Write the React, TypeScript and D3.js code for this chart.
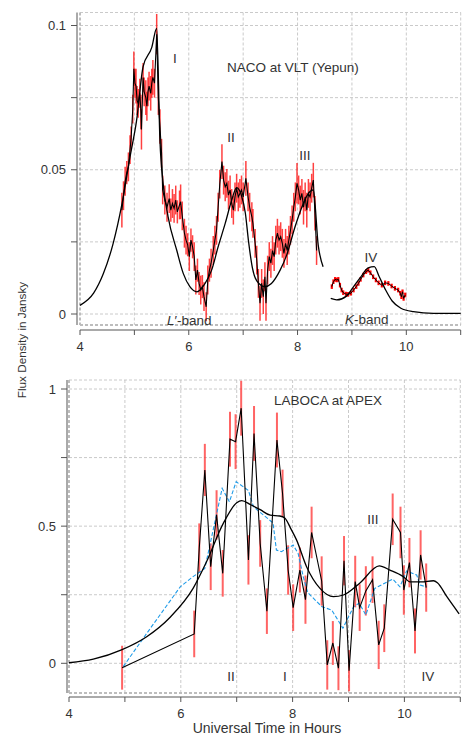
import React from "react";
import * as d3 from "d3";

// ---------- ticks ----------
const xTicks = [4, 5, 6, 7, 8, 9, 10, 11];
const xTickLabels = ["4", "", "6", "", "8", "", "10", ""];
const topYTicks = [0, 0.025, 0.05, 0.075, 0.1];
const topYTickLabels = ["0", "", "0.05", "", "0.1"];
const botYTicks = [0, 0.25, 0.5, 0.75, 1];
const botYTickLabels = ["0", "", "0.5", "", "1"];

// ---------- NACO L'-band data [hour, flux, error] ----------
const lbandData: [number, number, number][] = [
  [4.77, 0.036, 0.006], [4.8, 0.041, 0.005], [4.83, 0.046, 0.005], [4.86, 0.049, 0.004],
  [4.89, 0.051, 0.005], [4.92, 0.057, 0.005], [4.94, 0.061, 0.004], [4.97, 0.071, 0.005],
  [4.99, 0.085, 0.006], [5.01, 0.08, 0.005], [5.03, 0.079, 0.006], [5.05, 0.074, 0.005],
  [5.07, 0.073, 0.005], [5.1, 0.0765, 0.005], [5.12, 0.07, 0.006], [5.13, 0.064, 0.007],
  [5.16, 0.082, 0.005], [5.18, 0.077, 0.005], [5.21, 0.075, 0.006], [5.23, 0.072, 0.005],
  [5.25, 0.077, 0.005], [5.27, 0.079, 0.005], [5.3, 0.0765, 0.006], [5.32, 0.08, 0.005],
  [5.34, 0.082, 0.006], [5.37, 0.08, 0.005], [5.41, 0.097, 0.007], [5.44, 0.075, 0.006],
  [5.47, 0.065, 0.006], [5.5, 0.0557, 0.005], [5.52, 0.043, 0.005], [5.56, 0.0395, 0.005],
  [5.6, 0.037, 0.005], [5.64, 0.04, 0.005], [5.67, 0.036, 0.004], [5.7, 0.0383, 0.005],
  [5.73, 0.0366, 0.005], [5.76, 0.0395, 0.005], [5.79, 0.0354, 0.004], [5.83, 0.0378, 0.005],
  [5.85, 0.0389, 0.006], [5.88, 0.034, 0.005], [5.92, 0.028, 0.005], [5.95, 0.0256, 0.005],
  [5.98, 0.024, 0.004], [6.01, 0.0199, 0.005], [6.04, 0.0256, 0.004], [6.07, 0.0233, 0.004],
  [6.1, 0.0199, 0.005], [6.13, 0.0118, 0.005], [6.16, 0.0152, 0.004], [6.19, 0.0106, 0.004],
  [6.22, 0.0083, 0.005], [6.25, 0.0095, 0.004], [6.28, 0.006, 0.005], [6.32, 0.0025, 0.005],
  [6.35, 0.0118, 0.005], [6.38, 0.0152, 0.004], [6.41, 0.0176, 0.005], [6.45, 0.022, 0.005],
  [6.48, 0.0256, 0.005], [6.51, 0.029, 0.005], [6.54, 0.037, 0.005], [6.57, 0.045, 0.005],
  [6.61, 0.0528, 0.006], [6.64, 0.0464, 0.005], [6.67, 0.0441, 0.005], [6.7, 0.0453, 0.005],
  [6.73, 0.0412, 0.005], [6.76, 0.043, 0.005], [6.79, 0.0383, 0.005], [6.82, 0.036, 0.005],
  [6.85, 0.0406, 0.005], [6.88, 0.0436, 0.005], [6.91, 0.0406, 0.005], [6.94, 0.0418, 0.005],
  [6.97, 0.043, 0.005], [7.0, 0.0406, 0.005], [7.05, 0.047, 0.006], [7.09, 0.0406, 0.005],
  [7.12, 0.037, 0.005], [7.16, 0.0337, 0.005], [7.18, 0.0314, 0.005], [7.22, 0.0245, 0.005],
  [7.25, 0.0187, 0.005], [7.28, 0.0106, 0.005], [7.31, 0.0037, 0.006], [7.34, 0.0106, 0.005],
  [7.37, 0.006, 0.006], [7.4, 0.0129, 0.005], [7.42, 0.0037, 0.006], [7.45, 0.0152, 0.005],
  [7.48, 0.0199, 0.005], [7.51, 0.0176, 0.005], [7.54, 0.022, 0.005], [7.57, 0.0199, 0.005],
  [7.6, 0.0256, 0.005], [7.63, 0.028, 0.005], [7.66, 0.0256, 0.005], [7.69, 0.0268, 0.005],
  [7.72, 0.0245, 0.005], [7.75, 0.021, 0.005], [7.78, 0.0245, 0.005], [7.81, 0.022, 0.005],
  [7.84, 0.0256, 0.005], [7.87, 0.029, 0.005], [7.9, 0.0326, 0.005], [7.93, 0.037, 0.005],
  [7.96, 0.0406, 0.005], [7.99, 0.0453, 0.007], [8.02, 0.043, 0.005], [8.05, 0.0395, 0.005],
  [8.08, 0.0418, 0.005], [8.11, 0.037, 0.006], [8.14, 0.0406, 0.005], [8.17, 0.036, 0.006],
  [8.2, 0.0418, 0.005], [8.23, 0.0406, 0.005], [8.26, 0.0436, 0.005], [8.29, 0.0464, 0.006],
  [8.32, 0.0349, 0.006], [8.35, 0.022, 0.005],
];

// ---------- NACO K-band data [hour, flux, error] ----------
const kbandData: [number, number, number][] = [
  [8.63, 0.0095, 0.0008], [8.66, 0.0112, 0.0008], [8.69, 0.012, 0.0008], [8.72, 0.0118, 0.0008],
  [8.75, 0.012, 0.0008], [8.78, 0.01, 0.0008], [8.81, 0.0083, 0.0008], [8.84, 0.0074, 0.0008],
  [8.89, 0.0069, 0.0008], [8.93, 0.0068, 0.0008], [8.98, 0.0072, 0.0008], [9.03, 0.0083, 0.0008],
  [9.08, 0.0095, 0.0008], [9.12, 0.0106, 0.0008], [9.16, 0.012, 0.0008], [9.21, 0.0135, 0.0008],
  [9.26, 0.0147, 0.0008], [9.3, 0.0152, 0.0008], [9.34, 0.0143, 0.0008], [9.39, 0.0129, 0.0008],
  [9.44, 0.0118, 0.0008], [9.49, 0.0108, 0.0008], [9.55, 0.01, 0.0008], [9.61, 0.0108, 0.0008],
  [9.67, 0.0106, 0.0008], [9.73, 0.0097, 0.0008], [9.79, 0.0089, 0.0008], [9.85, 0.0083, 0.0008],
  [9.89, 0.0072, 0.0008], [9.91, 0.006, 0.0008], [9.93, 0.0077, 0.0008], [9.95, 0.0054, 0.0008],
  [9.98, 0.0066, 0.0008],
];

// ---------- NACO model curves [hour, flux] ----------
const lbandModel: [number, number][] = [
  [4.0, 0.003], [4.25, 0.0072], [4.43, 0.014], [4.61, 0.0245], [4.77, 0.038], [4.92, 0.0545],
  [5.04, 0.067], [5.16, 0.0857], [5.32, 0.0924], [5.41, 0.099], [5.47, 0.06], [5.53, 0.045],
  [5.62, 0.0337], [5.78, 0.022], [5.9, 0.014], [6.02, 0.0095], [6.15, 0.0077], [6.3, 0.0106],
  [6.42, 0.0152], [6.54, 0.0233], [6.67, 0.0314], [6.79, 0.0395], [6.88, 0.0438], [6.97, 0.041],
  [7.04, 0.035], [7.1, 0.025], [7.17, 0.016], [7.25, 0.0115], [7.4, 0.0095], [7.52, 0.0106],
  [7.68, 0.0152], [7.8, 0.0204], [7.95, 0.03], [8.07, 0.0366], [8.2, 0.0418], [8.29, 0.043],
  [8.38, 0.0239], [8.47, 0.0164],
];
const kbandModel: [number, number][] = [
  [8.61, 0.0054], [8.72, 0.0049], [8.9, 0.0062], [9.03, 0.0095], [9.15, 0.0125], [9.3, 0.016],
  [9.41, 0.0164], [9.5, 0.013], [9.62, 0.0083], [9.74, 0.0045], [9.9, 0.002], [10.13, 0.0008],
  [10.5, 0.0002], [11.0, 0.0002],
];

// ---------- LABOCA data [hour, flux, error] ----------
const labocaData: [number, number, number][] = [
  [4.95, -0.016, 0.08], [6.24, 0.107, 0.085], [6.33, 0.42, 0.09], [6.43, 0.705, 0.095],
  [6.535, 0.352, 0.085], [6.64, 0.541, 0.09], [6.75, 0.328, 0.085], [6.88, 0.817, 0.1],
  [6.98, 0.808, 0.1], [7.08, 0.93, 0.1], [7.21, 0.377, 0.09], [7.31, 0.838, 0.1],
  [7.42, 0.437, 0.085], [7.54, 0.19, 0.083], [7.72, 0.814, 0.1], [7.82, 0.62, 0.086],
  [7.92, 0.34, 0.09], [8.01, 0.203, 0.085], [8.13, 0.34, 0.082], [8.23, 0.232, 0.088],
  [8.34, 0.477, 0.094], [8.52, 0.3, 0.09], [8.62, -0.006, 0.09], [8.72, 0.074, 0.08],
  [8.82, -0.018, 0.08], [8.92, 0.374, 0.09], [9.01, -0.027, 0.075], [9.12, 0.298, 0.094],
  [9.2, 0.203, 0.085], [9.31, 0.264, 0.09], [9.43, 0.305, 0.085], [9.54, 0.067, 0.088],
  [9.64, 0.128, 0.087], [9.79, 0.525, 0.094], [9.93, 0.477, 0.094], [9.99, 0.267, 0.09],
  [10.09, 0.367, 0.09], [10.19, 0.118, 0.082], [10.29, 0.395, 0.09], [10.39, 0.276, 0.088],
];

// ---------- LABOCA model and smoothed curve [hour, flux] ----------
const labocaModel: [number, number][] = [
  [4.0, 0.002], [4.435, 0.015], [4.95, 0.05], [5.39, 0.097], [5.81, 0.168], [6.22, 0.273],
  [6.46, 0.37], [6.76, 0.51], [7.0, 0.585], [7.09, 0.593], [7.25, 0.578], [7.42, 0.56],
  [7.6, 0.54], [7.77, 0.537], [7.86, 0.53], [7.97, 0.49], [8.07, 0.45], [8.25, 0.352],
  [8.49, 0.273], [8.73, 0.243], [8.91, 0.249], [9.2, 0.292], [9.55, 0.355], [9.74, 0.34],
  [9.98, 0.316], [10.1, 0.297], [10.3, 0.297], [10.52, 0.301], [10.59, 0.294], [10.76, 0.243],
  [10.98, 0.18],
];
const labocaSmooth: [number, number][] = [
  [4.97, -0.012], [5.39, 0.109], [5.99, 0.279], [6.22, 0.316], [6.43, 0.346], [6.74, 0.638],
  [6.87, 0.589], [6.99, 0.662], [7.21, 0.63], [7.3, 0.571], [7.42, 0.55], [7.65, 0.512],
  [7.71, 0.413], [7.8, 0.407], [8.01, 0.431], [8.1, 0.4], [8.19, 0.316], [8.27, 0.258],
  [8.52, 0.207], [8.7, 0.194], [8.9, 0.128], [9.09, 0.206], [9.19, 0.219], [9.31, 0.176],
  [9.47, 0.273], [9.79, 0.307], [9.92, 0.279], [10.04, 0.337], [10.22, 0.322], [10.28, 0.285],
  [10.39, 0.279],
];

const FONT = "'Liberation Sans', Arial, Helvetica, sans-serif";
const TXT = "#333";

type PanelProps = {
  x0: number; x1: number; yTop: number; yBot: number;
  yAxisX: number; xAxisY: number;
  yDomain: [number, number]; yRange: [number, number];
  yTicks: number[]; yTickLabels: string[]; labelEndX: number;
  children: (x: d3.ScaleLinear<number, number>, y: d3.ScaleLinear<number, number>) => React.ReactNode;
};

function Panel(p: PanelProps) {
  const x = d3.scaleLinear().domain([4, 11]).range([p.x0, p.x1]);
  const y = d3.scaleLinear().domain(p.yDomain).range(p.yRange);
  const grid = "#bdbdbd";
  return (
    <g>
      {xTicks.map((t) => (
        <line key={"gx" + t} x1={x(t)} x2={x(t)} y1={p.yTop} y2={p.yBot}
          stroke={grid} strokeWidth={t === 4 ? 2 : 0.8} strokeDasharray="3,2" />
      ))}
      {p.yTicks.map((t) => (
        <line key={"gy" + t} x1={p.x0} x2={p.x1} y1={y(t)} y2={y(t)}
          stroke={grid} strokeWidth={0.8} strokeDasharray="3,2" />
      ))}
      <line x1={p.x0} x2={p.x1} y1={p.yTop} y2={p.yTop} stroke={grid} strokeWidth={0.8} strokeDasharray="3,2" />
      <line x1={p.x0} x2={p.x1} y1={p.yBot} y2={p.yBot} stroke={grid} strokeWidth={2} strokeDasharray="3,2" />
      <line x1={p.yAxisX} x2={p.yAxisX} y1={p.yTop} y2={p.yBot} stroke="#555" strokeWidth={1} />
      {p.yTicks.map((t, i) => (
        <g key={"yt" + t}>
          <line x1={p.yAxisX - 6} x2={p.yAxisX} y1={y(t)} y2={y(t)} stroke="#555" strokeWidth={1} />
          {p.yTickLabels[i] && (
            <text x={p.labelEndX} y={y(t) + 4.5} textAnchor="end" fontSize={13} fill={TXT} fontFamily={FONT}>
              {p.yTickLabels[i]}
            </text>
          )}
        </g>
      ))}
      <line x1={p.x0} x2={p.x1} y1={p.xAxisY} y2={p.xAxisY} stroke="#555" strokeWidth={1} />
      {xTicks.map((t, i) => (
        <g key={"xt" + t}>
          <line x1={x(t)} x2={x(t)} y1={p.xAxisY} y2={p.xAxisY + 5} stroke="#555" strokeWidth={1} />
          {xTickLabels[i] && (
            <text x={x(t)} y={p.xAxisY + 21} textAnchor="middle" fontSize={13} fill={TXT} fontFamily={FONT}>
              {xTickLabels[i]}
            </text>
          )}
        </g>
      ))}
      {p.children(x, y)}
    </g>
  );
}

export default function App() {
  const lineXY = (x: d3.ScaleLinear<number, number>, y: d3.ScaleLinear<number, number>, smooth: boolean) =>
    d3.line<[number, number]>()
      .x((d) => x(d[0]))
      .y((d) => y(d[1]))
      .curve(smooth ? d3.curveMonotoneX : d3.curveLinear);
  const lineErr = (x: d3.ScaleLinear<number, number>, y: d3.ScaleLinear<number, number>) =>
    d3.line<[number, number, number]>().x((d) => x(d[0])).y((d) => y(d[1]));

  const label = (txt: React.ReactNode, xx: number, yy: number, anchor = "start", size = 13.5) => (
    <text x={xx} y={yy} textAnchor={anchor} fontSize={size} fill={TXT} fontFamily={FONT}>{txt}</text>
  );

  return (
    <svg width={475} height={736} style={{ position: "absolute", left: 0, top: 0, background: "#fff" }}>
      <rect x={0} y={0} width={475} height={736} fill="#fff" />
      {/* ---------- top panel ---------- */}
      <Panel x0={80} x1={460.7} yTop={12.5} yBot={325} yAxisX={77} xAxisY={330}
        yDomain={[0, 0.1]} yRange={[314, 25.5]} yTicks={topYTicks} yTickLabels={topYTickLabels} labelEndX={66}>
        {(x, y) => (
          <g>
            {lbandData.map((d, i) => (
              <line key={"le" + i} x1={x(d[0])} x2={x(d[0])} y1={y(d[1] - d[2])} y2={y(d[1] + d[2])}
                stroke="#ff0000" strokeOpacity={0.75} strokeWidth={1.5} />
            ))}
            {kbandData.map((d, i) => (
              <line key={"ke" + i} x1={x(d[0])} x2={x(d[0])} y1={y(d[1] - d[2])} y2={y(d[1] + d[2])}
                stroke="#ff0000" strokeWidth={2.2} />
            ))}
            <path d={lineXY(x, y, true)(lbandModel) || ""} fill="none" stroke="#000" strokeWidth={1.3} />
            <path d={lineXY(x, y, true)(kbandModel) || ""} fill="none" stroke="#000" strokeWidth={1.3} />
            <path d={lineErr(x, y)(lbandData) || ""} fill="none" stroke="#000" strokeWidth={1.1} />
            <path d={lineErr(x, y)(kbandData) || ""} fill="none" stroke="#000" strokeWidth={1} />
            {label("I", 175, 63, "middle")}
            {label("NACO at VLT (Yepun)", 227, 72)}
            {label("II", 231, 142, "middle")}
            {label("III", 305, 160, "middle")}
            {label("IV", 371, 262, "middle")}
            {label(<><tspan fontStyle="italic">L</tspan>′-band</>, 167, 325)}
            {label(<><tspan fontStyle="italic">K</tspan>-band</>, 345, 324)}
          </g>
        )}
      </Panel>

      {/* ---------- bottom panel ---------- */}
      <Panel x0={69} x1={460.3} yTop={380} yBot={693} yAxisX={67} xAxisY={697}
        yDomain={[0, 1]} yRange={[663.3, 389]} yTicks={botYTicks} yTickLabels={botYTickLabels} labelEndX={56}>
        {(x, y) => (
          <g>
            {labocaData.map((d, i) => (
              <line key={"be" + i} x1={x(d[0])} x2={x(d[0])} y1={y(d[1] - d[2])} y2={y(d[1] + d[2])}
                stroke="#ff2222" strokeOpacity={0.7} strokeWidth={2} />
            ))}
            <path d={lineXY(x, y, false)(labocaSmooth) || ""} fill="none" stroke="#1e9be8" strokeWidth={1.1}
              strokeDasharray="4,2" />
            <path d={lineXY(x, y, true)(labocaModel) || ""} fill="none" stroke="#000" strokeWidth={1.3} />
            <path d={lineErr(x, y)(labocaData) || ""} fill="none" stroke="#000" strokeWidth={1.1} />
            {label("LABOCA at APEX", 274, 405)}
            {label("III", 373, 524, "middle")}
            {label("II", 231, 681, "middle")}
            {label("I", 285, 681, "middle")}
            {label("IV", 428, 681, "middle")}
          </g>
        )}
      </Panel>

      {label("Universal Time in Hours", 267, 733, "middle", 14)}
      <text x={0} y={0} transform="translate(26,340) rotate(-90)" textAnchor="middle" fontSize={11.7}
        fill={TXT} fontFamily={FONT}>Flux Density in Jansky</text>
    </svg>
  );
}
